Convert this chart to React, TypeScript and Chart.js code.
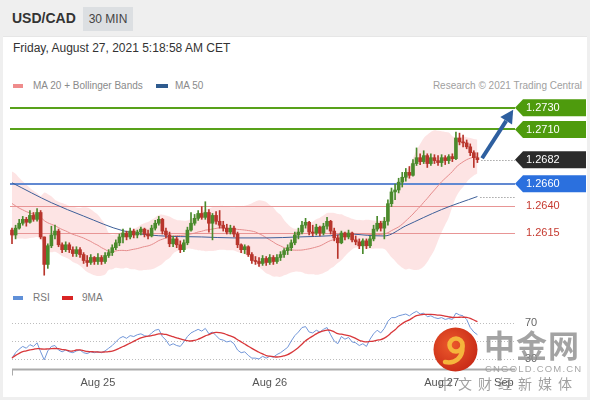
import React, { useEffect, useRef } from "react";
import { Chart, registerables } from "chart.js";
Chart.register(...registerables);

// ---------- text ----------
const pairName = "USD/CAD";
const timeframe = "30 MIN";
const dateText = "Friday, August 27, 2021 5:18:58 AM CET";
const legendMain = ["MA 20 + Bollinger Bands", "MA 50"];
const legendRsi = ["RSI", "9MA"];
const creditText = "Research \u00a9 2021 Trading Central";

// ---------- candles: index 0 = Aug 24 12:00 CET, 30-minute steps ----------
const firstOpen = 1.26174;
const closes = [
  1.26129, 1.26192, 1.26237, 1.26273, 1.26246, 1.26309, 1.26273, 1.26336, 1.26111, 1.25858,
  1.2603, 1.26129, 1.26165, 1.26039, 1.25994, 1.26039, 1.25994, 1.25958, 1.25994, 1.25949,
  1.25894, 1.25876, 1.25922, 1.25885, 1.25922, 1.25885, 1.2594, 1.25967, 1.26012, 1.26057,
  1.26111, 1.26147, 1.26111, 1.26165, 1.26129, 1.26156, 1.26183, 1.26138, 1.2612, 1.26192,
  1.26237, 1.26273, 1.26165, 1.26129, 1.26048, 1.26093, 1.26039, 1.25994, 1.26057, 1.26174,
  1.26237, 1.26282, 1.26327, 1.26291, 1.26336, 1.26237, 1.26309, 1.26255, 1.26219, 1.26192,
  1.26156, 1.26192, 1.26138, 1.26039, 1.25994, 1.26021, 1.25949, 1.25894, 1.25885, 1.25867,
  1.25913, 1.25876, 1.25922, 1.25885, 1.25922, 1.25949, 1.25985, 1.26012, 1.26057, 1.26129,
  1.26156, 1.26219, 1.26246, 1.26156, 1.26147, 1.26201, 1.26147, 1.2621, 1.26255, 1.26165,
  1.26102, 1.26057, 1.26147, 1.26111, 1.26147, 1.26084, 1.26066, 1.2603, 1.26075, 1.2603,
  1.26093, 1.26183, 1.26237, 1.26192, 1.26255, 1.26417, 1.26525, 1.26543, 1.26615, 1.2666,
  1.26705, 1.26678, 1.26786, 1.2684, 1.26804, 1.26859, 1.26786, 1.2684, 1.26813, 1.26795,
  1.2684, 1.26813, 1.2685, 1.26831, 1.27021, 1.26985, 1.26976, 1.2694, 1.26886, 1.2684,
  1.26822,
];
const highs = [
  1.26192, 1.26219, 1.26273, 1.263, 1.26291, 1.26354, 1.26336, 1.26372, 1.26354, 1.26111,
  1.26048, 1.2621, 1.26219, 1.26183, 1.26057, 1.26066, 1.26057, 1.26021, 1.26021, 1.26012,
  1.25967, 1.2594, 1.25949, 1.25931, 1.25958, 1.2594, 1.25967, 1.25994, 1.26039, 1.26084,
  1.26138, 1.26183, 1.26165, 1.26192, 1.26183, 1.26174, 1.26201, 1.26192, 1.26174, 1.26219,
  1.26264, 1.263, 1.26282, 1.26192, 1.26156, 1.2612, 1.26111, 1.26075, 1.26084, 1.26201,
  1.26336, 1.26318, 1.26354, 1.2639, 1.26435, 1.26363, 1.26327, 1.26345, 1.26354, 1.26255,
  1.26228, 1.26219, 1.2621, 1.26156, 1.26048, 1.26039, 1.2603, 1.25967, 1.25931, 1.25922,
  1.2594, 1.25931, 1.25949, 1.2594, 1.25949, 1.25976, 1.26003, 1.26039, 1.26084, 1.26156,
  1.26192, 1.26255, 1.26282, 1.26255, 1.26219, 1.26228, 1.2621, 1.26237, 1.26291, 1.26264,
  1.26192, 1.26129, 1.26165, 1.26156, 1.26174, 1.26156, 1.2612, 1.26093, 1.26093, 1.26093,
  1.2612, 1.26219, 1.263, 1.26255, 1.26291, 1.26453, 1.26561, 1.26597, 1.26651, 1.26705,
  1.26741, 1.26759, 1.26822, 1.2693, 1.26876, 1.26904, 1.26876, 1.26876, 1.26868, 1.26859,
  1.26868, 1.26859, 1.26868, 1.26876, 1.27075, 1.27066, 1.27048, 1.27003, 1.26967, 1.26904,
  1.26886,
];
const lows = [
  1.26048, 1.26093, 1.26183, 1.26219, 1.2621, 1.26237, 1.26255, 1.26255, 1.26093, 1.25759,
  1.25822, 1.26012, 1.26093, 1.26021, 1.25967, 1.25976, 1.25967, 1.25931, 1.25931, 1.25922,
  1.25867, 1.2584, 1.25858, 1.25858, 1.25858, 1.25858, 1.25867, 1.25922, 1.2594, 1.25994,
  1.2603, 1.26057, 1.26084, 1.26093, 1.26102, 1.26102, 1.26129, 1.26111, 1.26093, 1.26111,
  1.26174, 1.26219, 1.26138, 1.26102, 1.26021, 1.26021, 1.26012, 1.25967, 1.25976, 1.26039,
  1.26165, 1.26219, 1.26264, 1.26273, 1.26273, 1.26156, 1.26084, 1.26228, 1.26192, 1.26165,
  1.26138, 1.26138, 1.26111, 1.26012, 1.25967, 1.25958, 1.25931, 1.25867, 1.25858, 1.2584,
  1.25849, 1.25849, 1.25858, 1.25858, 1.25867, 1.25894, 1.25922, 1.25949, 1.25985, 1.26039,
  1.26093, 1.26138, 1.26192, 1.26129, 1.2612, 1.26129, 1.2612, 1.26129, 1.26183, 1.26138,
  1.26075, 1.25913, 1.26048, 1.26084, 1.26093, 1.26066, 1.26039, 1.26003, 1.25958, 1.26003,
  1.26012, 1.26075, 1.26165, 1.26165, 1.26093, 1.26219, 1.2639, 1.26453, 1.26516, 1.2657,
  1.26624, 1.26651, 1.26669, 1.26768, 1.26777, 1.26786, 1.2675, 1.26768, 1.26786, 1.26768,
  1.26759, 1.26777, 1.26786, 1.26804, 1.26822, 1.26958, 1.2694, 1.26922, 1.26859, 1.2675,
  1.26795,
];
// closes of the 19 candles before the visible window (for MA 20 / Bollinger)
const priorCloses = [
  1.2662, 1.2665, 1.266, 1.2657, 1.2655, 1.2651, 1.2649, 1.2652, 1.2647, 1.2643,
  1.264, 1.2644, 1.2638, 1.2634, 1.263, 1.2632, 1.2626, 1.2621, 1.2618,
];
// MA 50
const ma50Index = [0, 11, 20, 31, 41, 53, 62, 71, 80, 89, 94, 101, 104, 110, 120, 130];
const ma50Values = [
  1.26609, 1.26426, 1.26303, 1.26168, 1.26122, 1.26111, 1.26102, 1.26102, 1.26111, 1.26122,
  1.26138, 1.26122, 1.2612, 1.26213, 1.26363, 1.26483,
];
// RSI per candle
const rsiValues = [
  31, 37, 41, 44, 42, 46, 44, 48, 38, 29,
  39, 44, 45, 40, 38, 40, 38, 37, 39, 40,
  37, 36, 38, 37, 38, 37, 39, 42, 45, 49,
  53, 55, 53, 56, 55, 57, 58, 56, 55, 59,
  62, 63, 55, 51, 45, 47, 45, 44, 49, 55,
  59, 61, 63, 61, 64, 58, 60, 56, 52, 51,
  49, 50, 47, 40, 37, 38, 34, 31, 31, 30,
  33, 31, 33, 32, 35, 37, 40, 43, 50, 56,
  60, 65, 66, 60, 59, 62, 60, 63, 65, 57,
  50, 47, 55, 52, 54, 49, 48, 45, 47, 44,
  52, 58, 62, 59, 64, 72, 76, 76, 78, 79,
  80, 78, 81, 83, 80, 81, 77, 78, 76, 75,
  76, 74, 75, 74, 81, 79, 78, 74, 65, 60,
  57,
];
// key levels
const levelValues = [1.273, 1.271, 1.2682, 1.266, 1.264, 1.2615];
const levelLabels = ["1.2730", "1.2710", "1.2682", "1.2660", "1.2640", "1.2615"];
const levelKinds = ["resistance", "resistance", "last", "support", "minor", "minor"];
// target arrow (candle index, price)
const arrowFrom = { x: 131.3, y: 1.26835 };
const arrowTo = { x: 140.0, y: 1.2728 };
// time axis
const dayTickIndex = [24, 72, 120, 137.4];
const dayTickLabels = ["Aug 25", "Aug 26", "Aug 27", "Sep"];
const rsiGridValues = [30, 50, 70];
const rsiLabelValues = [70, 30];
const rsiLabelTexts = ["70", "30"];

// ---------- styles ----------
const FONT = '"Liberation Sans", Arial, Helvetica, sans-serif';
const UP = "#4a8a2c";
const DOWN = "#b8352c";
const levelStyles: any = {
  resistance: { line: "#58a11a", width: 2, tag: "#4e9b0d", text: "#ffffff" },
  last: { line: null, width: 0, tag: "#2b2b2b", text: "#ffffff" },
  support: { line: "#6189d2", width: 2, tag: "#2b70de", text: "#ffffff" },
  minor: { line: "#e89595", width: 1, tag: null, text: "#c63a30" },
};
const X_MIN = -0.56;
const X_MAX = 140.5;

function bollinger() {
  const all = priorCloses.concat(closes);
  const mid: number[] = [];
  const up: number[] = [];
  const lo: number[] = [];
  for (let i = 0; i < closes.length; i++) {
    const w = all.slice(i, i + 20);
    const m = w.reduce((a, b) => a + b, 0) / w.length;
    const sd = Math.sqrt(w.reduce((a, b) => a + (b - m) * (b - m), 0) / w.length);
    mid.push(m);
    up.push(m + 2 * sd);
    lo.push(m - 2 * sd);
  }
  return { mid, up, lo };
}

function movingAvg(arr: number[], n: number) {
  return arr.map((_, i) => {
    const w = arr.slice(Math.max(0, i - n + 1), i + 1);
    return w.reduce((a, b) => a + b, 0) / w.length;
  });
}

const mainOverlay = {
  id: "mainOverlay",
  afterDatasetDraw(chart: any, args: any) {
    if (args.index !== 0) return;
    const { ctx, chartArea, scales } = chart;
    ctx.save();
    levelValues.forEach((v, k) => {
      const st = levelStyles[levelKinds[k]];
      if (!st.line) return;
      let py = Math.round(scales.y.getPixelForValue(v));
      if (st.width % 2 === 1) py += 0.5;
      ctx.strokeStyle = st.line;
      ctx.lineWidth = st.width;
      ctx.beginPath();
      ctx.moveTo(chartArea.left, py);
      ctx.lineTo(chartArea.right, py);
      ctx.stroke();
    });
    ctx.restore();
  },
  afterDraw(chart: any) {
    const { ctx, chartArea, scales } = chart;
    const xs = scales.x;
    const ys = scales.y;
    ctx.save();
    // dotted extensions
    ctx.setLineDash([1, 2]);
    ctx.lineWidth = 1;
    ctx.strokeStyle = "#7a7a7a";
    const lastIdx = levelKinds.indexOf("last");
    const lx = xs.getPixelForValue(closes.length - 1) + 4;
    const ly = Math.round(ys.getPixelForValue(levelValues[lastIdx])) + 0.5;
    ctx.beginPath();
    ctx.moveTo(lx, ly);
    ctx.lineTo(chartArea.right, ly);
    ctx.stroke();
    const mx = xs.getPixelForValue(ma50Index[ma50Index.length - 1]) + 3;
    const my = Math.round(ys.getPixelForValue(ma50Values[ma50Values.length - 1])) + 0.5;
    ctx.beginPath();
    ctx.moveTo(mx, my);
    ctx.lineTo(chartArea.right, my);
    ctx.stroke();
    ctx.setLineDash([]);

    // arrow
    const ax0 = xs.getPixelForValue(arrowFrom.x);
    const ay0 = ys.getPixelForValue(arrowFrom.y);
    const ax1 = xs.getPixelForValue(arrowTo.x);
    const ay1 = ys.getPixelForValue(arrowTo.y);
    const ang = Math.atan2(ay1 - ay0, ax1 - ax0);
    const headLen = 13;
    const headHalf = 7;
    const bx = ax1 - headLen * Math.cos(ang);
    const by = ay1 - headLen * Math.sin(ang);
    ctx.strokeStyle = "#2e5f9f";
    ctx.fillStyle = "#2e5f9f";
    ctx.lineWidth = 4;
    ctx.beginPath();
    ctx.moveTo(ax0, ay0);
    ctx.lineTo(bx, by);
    ctx.stroke();
    ctx.beginPath();
    ctx.moveTo(ax1, ay1);
    ctx.lineTo(bx + headHalf * Math.sin(ang), by - headHalf * Math.cos(ang));
    ctx.lineTo(bx - headHalf * Math.sin(ang), by + headHalf * Math.cos(ang));
    ctx.closePath();
    ctx.fill();

    // tags and labels
    ctx.font = "11px " + FONT;
    ctx.textBaseline = "middle";
    ctx.textAlign = "left";
    const left = chartArea.right;
    const tagRight = chart.width - 4;
    levelValues.forEach((v, k) => {
      const st = levelStyles[levelKinds[k]];
      const py = ys.getPixelForValue(v);
      if (st.tag) {
        ctx.fillStyle = st.tag;
        ctx.beginPath();
        ctx.moveTo(left, py);
        ctx.lineTo(left + 8, py - 8.5);
        ctx.lineTo(tagRight, py - 8.5);
        ctx.lineTo(tagRight, py + 8.5);
        ctx.lineTo(left + 8, py + 8.5);
        ctx.closePath();
        ctx.fill();
      }
      ctx.fillStyle = st.text;
      ctx.fillText(levelLabels[k], left + 11, py + 0.5);
    });
    ctx.restore();
  },
};

const rsiOverlay = {
  id: "rsiOverlay",
  beforeDatasetsDraw(chart: any) {
    const { ctx, chartArea, scales } = chart;
    ctx.save();
    ctx.setLineDash([1, 2]);
    ctx.strokeStyle = "#bdbdbd";
    ctx.lineWidth = 1;
    rsiGridValues.forEach((v) => {
      const py = Math.round(scales.y.getPixelForValue(v)) + 0.5;
      ctx.beginPath();
      ctx.moveTo(scales.x.getPixelForValue(0), py);
      ctx.lineTo(chartArea.right, py);
      ctx.stroke();
    });
    ctx.restore();
  },
  afterDraw(chart: any) {
    const { ctx, chartArea, scales } = chart;
    ctx.save();
    ctx.font = "11px " + FONT;
    ctx.textBaseline = "middle";
    ctx.textAlign = "left";
    ctx.fillStyle = "#666";
    rsiLabelValues.forEach((v, k) => {
      ctx.fillText(rsiLabelTexts[k], chartArea.right + 10, scales.y.getPixelForValue(v));
    });
    // time axis
    const x0 = scales.x.getPixelForValue(0);
    const by = chartArea.bottom + 0.5;
    ctx.strokeStyle = "#ababab";
    ctx.lineWidth = 2;
    ctx.beginPath();
    ctx.moveTo(x0, by);
    ctx.lineTo(chartArea.right, by);
    ctx.stroke();
    ctx.lineWidth = 1;
    ctx.beginPath();
    ctx.moveTo(x0 + 0.5, by);
    ctx.lineTo(x0 + 0.5, by + 6);
    ctx.stroke();
    ctx.fillStyle = "#555";
    ctx.textAlign = "center";
    dayTickIndex.forEach((t, k) => {
      ctx.fillText(dayTickLabels[k], scales.x.getPixelForValue(t), chartArea.bottom + 14);
    });
    ctx.restore();
  },
};

export default function App() {
  const mainRef = useRef<HTMLCanvasElement>(null);
  const rsiRef = useRef<HTMLCanvasElement>(null);

  useEffect(() => {
    const opens = closes.map((_, i) => (i === 0 ? firstOpen : closes[i - 1]));
    const colors = closes.map((c, i) => (c >= opens[i] ? UP : DOWN));
    const bb = bollinger();
    const toXY = (arr: number[]) => arr.map((v, i) => ({ x: i, y: v }));

    const main = new Chart(mainRef.current as HTMLCanvasElement, {
      type: "bar",
      data: {
        datasets: [
          {
            type: "line",
            data: toXY(bb.up),
            borderWidth: 0,
            borderColor: "rgba(0,0,0,0)",
            pointRadius: 0,
            tension: 0.4,
            fill: 1,
            backgroundColor: "rgba(245,120,120,0.2)",
            order: 10,
          },
          {
            type: "line",
            data: toXY(bb.lo),
            borderWidth: 0,
            borderColor: "rgba(0,0,0,0)",
            pointRadius: 0,
            tension: 0.4,
            fill: false,
            order: 11,
          },
          {
            type: "line",
            data: toXY(bb.mid),
            borderColor: "#e58c8c",
            borderWidth: 1,
            pointRadius: 0,
            tension: 0.4,
            fill: false,
            order: 5,
          },
          {
            type: "line",
            data: ma50Index.map((x, k) => ({ x, y: ma50Values[k] })),
            borderColor: "#3d5f98",
            borderWidth: 1,
            pointRadius: 0,
            cubicInterpolationMode: "monotone",
            fill: false,
            order: 4,
          },
          {
            type: "bar",
            data: closes.map((c, i) => ({
              x: i,
              y: [Math.min(lows[i], opens[i], c), Math.max(highs[i], opens[i], c)],
            })),
            backgroundColor: colors,
            barThickness: 1,
            grouped: false,
            borderWidth: 0,
            order: 2,
          },
          {
            type: "bar",
            data: closes.map((c, i) => ({ x: i, y: [opens[i], c] })),
            backgroundColor: colors,
            barThickness: 3,
            grouped: false,
            minBarLength: 1,
            borderWidth: 0,
            order: 1,
          },
        ] as any,
      },
      options: {
        animation: false,
        responsive: false,
        events: [],
        layout: { padding: { left: 10, right: 75, top: 0, bottom: 0 } },
        plugins: { legend: { display: false }, tooltip: { enabled: false } },
        scales: {
          x: { type: "linear", min: X_MIN, max: X_MAX, display: false, offset: false },
          y: { min: 1.256873, max: 1.274168, display: false },
        },
      } as any,
      plugins: [mainOverlay as any],
    });

    const rsiMA = movingAvg(rsiValues, 9);
    const rsi = new Chart(rsiRef.current as HTMLCanvasElement, {
      type: "line",
      data: {
        datasets: [
          {
            data: toXY(rsiMA),
            borderColor: "#d8373a",
            borderWidth: 1.3,
            pointRadius: 0,
            tension: 0.4,
            order: 1,
          },
          {
            data: toXY(rsiValues),
            borderColor: "#7196d8",
            borderWidth: 1,
            pointRadius: 0,
            tension: 0,
            order: 2,
          },
        ],
      },
      options: {
        animation: false,
        responsive: false,
        events: [],
        layout: { padding: { left: 10, right: 75, top: 8, bottom: 31 } },
        plugins: { legend: { display: false }, tooltip: { enabled: false } },
        scales: {
          x: { type: "linear", min: X_MIN, max: X_MAX, display: false },
          y: { min: 18.9, max: 86.7, display: false },
        },
      } as any,
      plugins: [rsiOverlay as any],
    });

    return () => {
      main.destroy();
      rsi.destroy();
    };
  }, []);

  const abs = (s: any) => ({ position: "absolute" as const, ...s });
  const small = { fontSize: 10, lineHeight: "12px", color: "#8a8a8a", whiteSpace: "nowrap" as const };

  return (
    <div
      style={{
        position: "fixed",
        left: 0,
        top: 0,
        width: 590,
        height: 400,
        background: "#efefef",
        fontFamily: FONT,
        overflow: "hidden",
      }}
    >
      {/* header */}
      <div style={abs({ left: 12, top: 10, fontSize: 14, lineHeight: "16px", fontWeight: "bold", color: "#333" })}>
        {pairName}
      </div>
      <div
        style={abs({
          left: 83,
          top: 7,
          width: 50,
          height: 24,
          background: "#dcdfe2",
          color: "#444",
          fontSize: 12,
          lineHeight: "24px",
          textAlign: "center",
        })}
      >
        {timeframe}
      </div>
      {/* white panel */}
      <div style={abs({ left: 3, top: 36, width: 584, height: 360, background: "#fff", borderTop: "1px solid #e6e6e6" })} />
      <div style={abs({ left: 13, top: 41, fontSize: 12, lineHeight: "14px", color: "#333", whiteSpace: "nowrap" })}>
        {dateText}
      </div>
      {/* main legend */}
      <div style={abs({ left: 13, top: 84, width: 10, height: 4, background: "#ef8c8c" })} />
      <div style={abs({ left: 33, top: 80, ...small })}>{legendMain[0]}</div>
      <div style={abs({ left: 156, top: 84, width: 12, height: 4, background: "#2f5b8f" })} />
      <div style={abs({ left: 175, top: 80, ...small })}>{legendMain[1]}</div>
      <div style={abs({ right: 8, top: 80, ...small, color: "#a0a0a0" })}>{creditText}</div>

      <canvas ref={mainRef} width={590} height={188} style={abs({ left: 0, top: 95, width: 590, height: 188 })} />

      {/* rsi legend */}
      <div style={abs({ left: 13, top: 296, width: 10, height: 4, background: "#6090d8" })} />
      <div style={abs({ left: 33, top: 292, ...small, color: "#777" })}>{legendRsi[0]}</div>
      <div style={abs({ left: 62, top: 296, width: 11, height: 4, background: "#d92424" })} />
      <div style={abs({ left: 82, top: 292, ...small, color: "#777" })}>{legendRsi[1]}</div>

      <canvas ref={rsiRef} width={590} height={100} style={abs({ left: 0, top: 300, width: 590, height: 100 })} />

      {/* watermark */}
      <svg style={abs({ left: 433, top: 327 })} width={45} height={45} viewBox="0 0 45 45">
        <defs>
          <radialGradient id="wmg" cx="40%" cy="40%" r="65%">
            <stop offset="0%" stopColor="#ec5a2c" />
            <stop offset="100%" stopColor="#c82a16" />
          </radialGradient>
        </defs>
        <circle cx={22.5} cy={22.5} r={22} fill="url(#wmg)" />
        <circle cx={23} cy={18} r={6.5} fill="none" stroke="#f5b53c" strokeWidth={4.5} />
        <path d="M 29.5 19 C 30 31, 22 37, 12 35" fill="none" stroke="#f5b53c" strokeWidth={4.5} strokeLinecap="round" />
      </svg>
      <div
        style={abs({
          left: 484,
          top: 326,
          fontSize: 31,
          lineHeight: "36px",
          fontWeight: "bold",
          color: "rgba(140,140,140,0.8)",
          fontFamily: '"Noto Sans CJK SC", sans-serif',
          letterSpacing: 1,
          whiteSpace: "nowrap",
        })}
      >
        中金网
      </div>
      <div
        style={abs({
          left: 485,
          top: 363,
          fontSize: 9.5,
          lineHeight: "11px",
          color: "rgba(150,150,150,0.85)",
          letterSpacing: 1.2,
          whiteSpace: "nowrap",
        })}
      >
        CNGOLD.COM.CN
      </div>
      <div
        style={abs({
          left: 438,
          top: 375,
          fontSize: 14,
          lineHeight: "16px",
          color: "rgba(120,120,120,0.7)",
          fontFamily: '"Noto Sans CJK SC", sans-serif',
          letterSpacing: 6,
          whiteSpace: "nowrap",
        })}
      >
        中文财经新媒体
      </div>
    </div>
  );
}
